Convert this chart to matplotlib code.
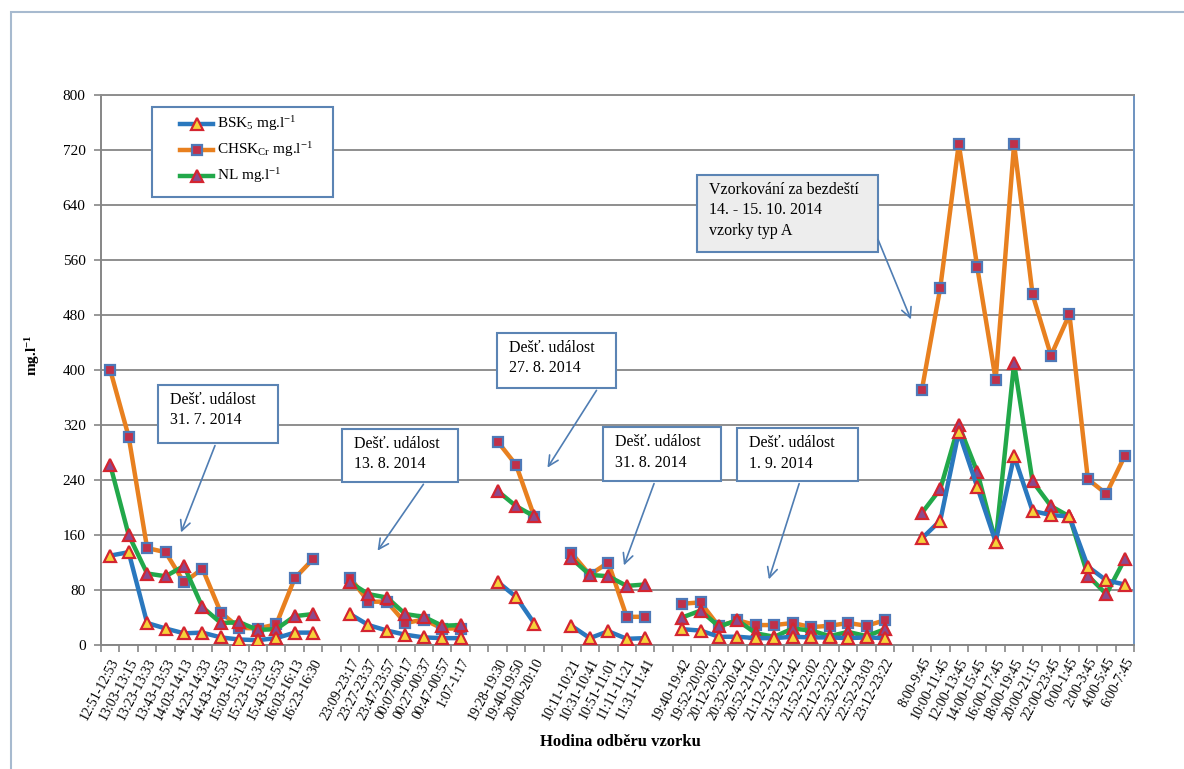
import numpy as np
import matplotlib
matplotlib.use("Agg")
import matplotlib.pyplot as plt
from matplotlib.patches import Rectangle, FancyArrowPatch
from matplotlib.lines import Line2D

plt.rcParams['font.family'] = ['Liberation Serif', 'DejaVu Serif']
plt.rcParams['mathtext.fontset'] = 'custom'
plt.rcParams['mathtext.rm'] = 'Liberation Serif'
plt.rcParams['mathtext.it'] = 'Liberation Serif:italic'
plt.rcParams['mathtext.bf'] = 'Liberation Serif:bold'

# ---------------- data ----------------
labels_g1 = ["12:51-12:53", "13:03-13:15", "13:23-13:33", "13:43-13:53", "14:03-14:13", "14:23-14:33",
             "14:43-14:53", "15:03-15:13", "15:23-15:33", "15:43-15:53", "16:03-16:13", "16:23-16:30"]
labels_g2 = ["23:09-23:17", "23:27-23:37", "23:47-23:57", "00:07-00:17", "00:27-00:37", "00:47-00:57", "1:07-1:17"]
labels_g3 = ["19:28-19:30", "19:40-19:50", "20:00-20:10"]
labels_g4 = ["10:11-10:21", "10:31-10:41", "10:51-11:01", "11:11-11:21", "11:31-11:41"]
labels_g5 = ["19:40-19:42", "19:52-20:02", "20:12-20:22", "20:32-20:42", "20:52-21:02", "21:12-21:22",
             "21:32-21:42", "21:52-22:02", "22:12-22:22", "22:32-22:42", "22:52-23:03", "23:12-23:22"]
labels_g6 = ["8:00-9:45", "10:00-11:45", "12:00-13:45", "14:00-15:45", "16:00-17:45", "18:00-19:45",
             "20:00-21:15", "22:00-23:45", "0:00-1:45", "2:00-3:45", "4:00-5:45", "6:00-7:45"]

bsk_g1 = [130, 135, 32, 24, 17, 18, 11, 8, 7, 10, 18, 18]
chsk_g1 = [400, 303, 141, 135, 91, 111, 47, 25, 24, 30, 97, 125]
nl_g1 = [262, 160, 104, 100, 115, 55, 32, 33, 22, 23, 42, 45]

bsk_g2 = [45, 29, 21, 15, 11, 10, 10]
chsk_g2 = [98, 63, 63, 32, 37, 24, 24]
nl_g2 = [91, 74, 69, 45, 41, 28, 29]

bsk_g3 = [92, 70, 31]
chsk_g3 = [296, 262, 186]
nl_g3 = [224, 202, 187]

bsk_g4 = [28, 10, 20, 9, 10]
chsk_g4 = [134, 102, 120, 41, 41]
nl_g4 = [126, 102, 100, 86, 88]

bsk_g5 = [23, 21, 12, 12, 10, 10, 12, 11, 11, 10, 11, 10]
chsk_g5 = [60, 62, 27, 36, 29, 29, 32, 26, 28, 32, 28, 36]
nl_g5 = [40, 50, 27, 36, 17, 12, 24, 21, 13, 19, 13, 23]

bsk_g6 = [155, 181, 310, 230, 150, 275, 195, 189, 187, 114, 94, 88]
chsk_g6 = [371, 520, 729, 550, 386, 729, 510, 421, 481, 241, 220, 275]
nl_g6 = [192, 227, 320, 252, 150, 410, 238, 202, 187, 101, 74, 125]

label_groups = [labels_g1, labels_g2, labels_g3, labels_g4, labels_g5, labels_g6]
bsk_groups = [bsk_g1, bsk_g2, bsk_g3, bsk_g4, bsk_g5, bsk_g6]
chsk_groups = [chsk_g1, chsk_g2, chsk_g3, chsk_g4, chsk_g5, chsk_g6]
nl_groups = [nl_g1, nl_g2, nl_g3, nl_g4, nl_g5, nl_g6]


def join(groups, gap):
    out = []
    for i, g in enumerate(groups):
        if i:
            out.append(gap)
        out.extend(g)
    return out

categories = join(label_groups, "")
bsk = np.array(join(bsk_groups, np.nan), dtype=float)
chsk = np.array(join(chsk_groups, np.nan), dtype=float)
nl = np.array(join(nl_groups, np.nan), dtype=float)
x = np.arange(len(categories))

# ---------------- figure ----------------
W, H = 1184, 769
fig = plt.figure(figsize=(W / 100, H / 100), dpi=100)


def fx(px):
    return px / W


def fy(py):
    return 1 - py / H

# outer chart border
fig.patches.append(Rectangle((fx(11), -0.2), 1.2, fy(12) + 0.2, transform=fig.transFigure,
                             fill=False, edgecolor="#A7BACF", linewidth=1.5))

ax = fig.add_axes([fx(101), fy(645), fx(1134) - fx(101), fy(95) - fy(645)])
ax.set_xlim(-0.5, len(categories) - 0.5)
ax.set_ylim(0, 800)

c_bsk = "#2A78BE"
c_chsk = "#E8801F"
c_nl = "#22A84A"
styles = {
    "bsk": dict(color=c_bsk, lw=3.2, marker="^", ms=8, mfc="#F6D23A", mec="#D42530", mew=1.6),
    "chsk": dict(color=c_chsk, lw=3.2, marker="s", ms=6.5, mfc="#C0304A", mec="#4E79B8", mew=1.6),
    "nl": dict(color=c_nl, lw=3.2, marker="^", ms=8, mfc="#8A4A8E", mec="#D42530", mew=1.6),
}

ax.plot(x, bsk, zorder=5, **styles["bsk"])
ax.plot(x, chsk, zorder=4, **styles["chsk"])
ax.plot(x, nl, zorder=4.5, **styles["nl"])

# axes styling
ax.set_yticks(np.arange(0, 801, 80))
ax.yaxis.grid(True, color="#8E8E8E", lw=1.4)
ax.set_axisbelow(True)
ax.tick_params(axis="y", length=5, width=1.2, color="#868686", labelsize=11, pad=6)
ax.set_xticks(x)
ax.set_xticklabels(categories, rotation=62, ha="right", rotation_mode="anchor", fontsize=10)
ax.tick_params(axis="x", which="major", length=0, pad=8)
ax.set_xticks(np.arange(-0.5, len(categories)), minor=True)
ax.tick_params(axis="x", which="minor", length=5, width=1.2, color="#868686")
for s in ["left", "bottom"]:
    ax.spines[s].set_color("#868686")
    ax.spines[s].set_linewidth(1.4)
ax.spines["top"].set_color("#8E8E8E")
ax.spines["top"].set_linewidth(1.4)
ax.spines["right"].set_color("#6E93C0")
ax.spines["right"].set_linewidth(1.4)

fig.text(fx(33), fy(355), r"mg.l$^{\mathbf{-1}}$", rotation=90, ha="center", va="center",
         fontsize=11, fontweight="bold")
fig.text(fx(620), fy(742), "Hodina odběru vzorku", ha="center", va="center",
         fontsize=12, fontweight="bold")

# legend (drawn as a box with sample lines)
box_ec = "#5B84B4"
fig.patches.append(Rectangle((fx(152), fy(197)), fx(333) - fx(152), fy(107) - fy(197),
                             transform=fig.transFigure, facecolor="white", edgecolor=box_ec,
                             linewidth=1.5, zorder=8))
legend_items = [
    ("bsk", r"BSK$_5$ mg.l$^{-1}$", 124),
    ("chsk", r"CHSK$_{\mathrm{Cr}}$ mg.l$^{-1}$", 150),
    ("nl", r"NL mg.l$^{-1}$", 176),
]
for key, txt, yy in legend_items:
    st = dict(styles[key])
    fig.add_artist(Line2D([fx(180), fx(213)], [fy(yy), fy(yy)], transform=fig.transFigure,
                          color=st["color"], lw=st["lw"], zorder=9))
    fig.add_artist(Line2D([fx(196.5)], [fy(yy)], transform=fig.transFigure, lw=0,
                          marker=st["marker"], ms=st["ms"], mfc=st["mfc"], mec=st["mec"],
                          mew=st["mew"], zorder=9.5))
    fig.text(fx(217), fy(yy), txt, ha="left", va="center", fontsize=11, zorder=10)

# annotation boxes
arrow_c = "#4F7DB3"
boxes = [
    ((158, 385, 278, 443), ["Dešť. událost", "31. 7. 2014"], "white", ((216, 443), (180, 535))),
    ((342, 429, 458, 482), ["Dešť. událost", "13. 8. 2014"], "white", ((425, 482), (376, 553))),
    ((497, 333, 616, 388), ["Dešť. událost", "27. 8. 2014"], "white", ((598, 388), (546, 470))),
    ((603, 427, 721, 481), ["Dešť. událost", "31. 8. 2014"], "white", ((655, 481), (623, 568))),
    ((737, 428, 858, 481), ["Dešť. událost", "1. 9. 2014"], "white", ((800, 481), (768, 582))),
    ((697, 175, 878, 252), ["Vzorkování za bezdeští", "14. - 15. 10. 2014", "vzorky typ A"], "#EDEDED",
     ((877, 237), (912, 322))),
]
for (x0, y0, x1, y1), lines, fc, (a, b) in boxes:
    fig.patches.append(Rectangle((fx(x0), fy(y1)), fx(x1) - fx(x0), fy(y0) - fy(y1),
                                 transform=fig.transFigure, facecolor=fc, edgecolor=box_ec,
                                 linewidth=1.5, zorder=6))
    for i, ln in enumerate(lines):
        fig.text(fx(x0 + 12), fy(y0 + 15 + i * 20.5), ln, ha="left", va="center", fontsize=11.5,
                 zorder=7)
    fig.patches.append(FancyArrowPatch((fx(a[0]), fy(a[1])), (fx(b[0]), fy(b[1])),
                                       transform=fig.transFigure, arrowstyle="->",
                                       mutation_scale=18, color=arrow_c, lw=1.2, zorder=6))

fig.savefig("out.png", dpi=100)
